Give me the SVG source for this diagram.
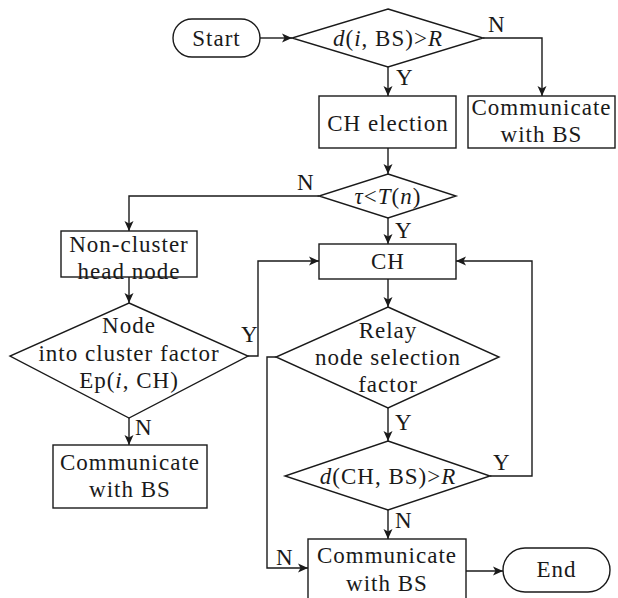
<svg xmlns="http://www.w3.org/2000/svg" width="618" height="598" viewBox="0 0 618 598">
<defs>
<style>
.s{fill:#fff;stroke:#1a1a1a;stroke-width:1.4}
.c{fill:none;stroke:#1a1a1a;stroke-width:1.4;marker-end:url(#ah)}
.cn{fill:none;stroke:#1a1a1a;stroke-width:1.4}
text{font-family:"Liberation Serif","Times New Roman",serif;font-size:23px;fill:#1a1a1a;letter-spacing:1px}
.m{text-anchor:middle}
.i{font-style:italic}
</style>
<marker id="ah" markerUnits="userSpaceOnUse" markerWidth="11" markerHeight="10" refX="10" refY="5" orient="auto">
<path d="M0,0.5 L10,5 L0,9.5 L2.5,5 Z" fill="#1a1a1a"/>
</marker>
</defs>
<g id="connectors">
<path class="c" d="M260,38 H292"/>
<path class="c" d="M483,38 H542 V96"/>
<path class="c" d="M388,67 V96"/>
<path class="c" d="M388,148 V174"/>
<path class="c" d="M319,196 H129 V231"/>
<path class="c" d="M388,218 V244"/>
<path class="c" d="M129,277 V303"/>
<path class="c" d="M248,356 H258 V261 H319"/>
<path class="c" d="M129,418 V445"/>
<path class="c" d="M388,279 V307"/>
<path class="c" d="M276,357 H267 V568 H308"/>
<path class="c" d="M388,408 V441"/>
<path class="c" d="M490,476 H532 V261 H456"/>
<path class="c" d="M388,510 V539"/>
<path class="c" d="M466,571 H503"/>
<text x="488" y="32">N</text>
<text x="396" y="85">Y</text>
<text x="297" y="190">N</text>
<text x="395" y="238">Y</text>
<text x="241" y="342">Y</text>
<text x="135" y="435">N</text>
<text x="395" y="430">Y</text>
<text x="493" y="470">Y</text>
<text x="395" y="528">N</text>
<text x="276" y="565">N</text>
</g>
<g id="start">
<rect class="s" x="173" y="19" width="87" height="38" rx="19"/>
<text class="m" x="216.5" y="46">Start</text>
</g>
<g id="dec1">
<polygon class="s" points="388,9 483,38 388,67 292,38"/>
<text class="m" x="388" y="46"><tspan class="i">d</tspan>(<tspan class="i">i</tspan>, BS)&gt;<tspan class="i">R</tspan></text>
</g>
<g id="chElection">
<rect class="s" x="319" y="96" width="137" height="52"/>
<text class="m" x="388" y="131">CH election</text>
</g>
<g id="comm1">
<rect class="s" x="468" y="96" width="147" height="52"/>
<text class="m" x="541.5" y="115">Communicate</text>
<text class="m" x="541.5" y="142">with BS</text>
</g>
<g id="dec2">
<polygon class="s" points="388,174 456,196 388,218 319,196"/>
<text class="m" x="388" y="204"><tspan class="i">τ</tspan>&lt;<tspan class="i">T</tspan>(<tspan class="i">n</tspan>)</text>
</g>
<g id="nonCluster">
<rect class="s" x="61" y="231" width="136" height="46"/>
<text class="m" x="129" y="252">Non-cluster</text>
<text class="m" x="129" y="279">head node</text>
</g>
<g id="ch">
<rect class="s" x="319" y="244" width="137" height="35"/>
<text class="m" x="388" y="269">CH</text>
</g>
<g id="dec3">
<polygon class="s" points="129,303 248,356 129,418 10,356"/>
<text class="m" x="129" y="333">Node</text>
<text class="m" x="129" y="361">into cluster factor</text>
<text class="m" x="129" y="388">Ep(<tspan class="i">i</tspan>, CH)</text>
</g>
<g id="relay">
<polygon class="s" points="388,307 499,357 388,408 276,357"/>
<text class="m" x="388" y="338">Relay</text>
<text class="m" x="388" y="365">node selection</text>
<text class="m" x="388" y="392">factor</text>
</g>
<g id="comm2">
<rect class="s" x="53" y="445" width="154" height="63"/>
<text class="m" x="130" y="470">Communicate</text>
<text class="m" x="130" y="497">with BS</text>
</g>
<g id="dec4">
<polygon class="s" points="388,441 490,476 388,510 285,476"/>
<text class="m" x="388" y="484"><tspan class="i">d</tspan>(CH, BS)&gt;<tspan class="i">R</tspan></text>
</g>
<g id="comm3">
<rect class="s" x="308" y="539" width="158" height="70"/>
<text class="m" x="387" y="563">Communicate</text>
<text class="m" x="387" y="591">with BS</text>
</g>
<g id="end">
<rect class="s" x="503" y="548" width="107" height="44" rx="22"/>
<text class="m" x="556.5" y="577">End</text>
</g>
</svg>
